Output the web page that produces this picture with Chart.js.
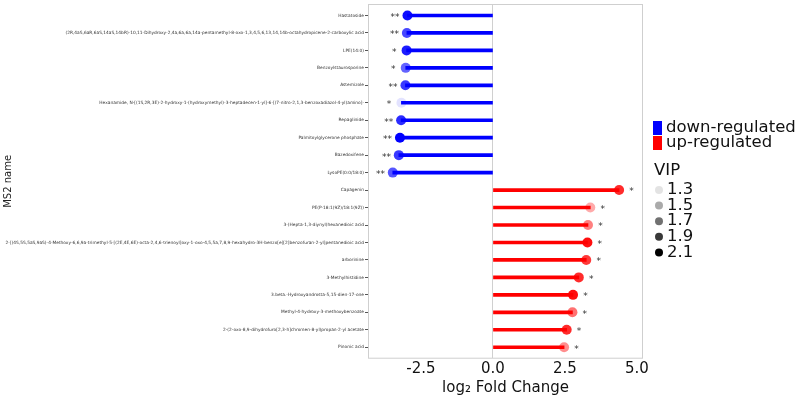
<!DOCTYPE html>
<html>
<head>
<meta charset="utf-8">
<script src="https://cdn.jsdelivr.net/npm/chart.js@4/dist/chart.umd.min.js"></script>
<style>
  html, body { margin: 0; padding: 0; background: #fff; }
  #wrap { position: relative; width: 798px; height: 399px; }
</style>
</head>
<body>
<div id="wrap"><canvas id="chart" width="798" height="399"></canvas></div>
<script>
// metabolites, top to bottom
const names = [
    'Hastatoside',
    '(2R,4aS,6aR,6aS,14aS,14bR)-10,11-Dihydroxy-2,4a,6a,6a,14a-pentamethyl-8-oxo-1,3,4,5,6,13,14,14b-octahydropicene-2-carboxylic acid',
    'LPE(14:0)',
    'Benzoylstaurosporine',
    'Astemizole',
    'Hexanamide, N-[(1S,2R,3E)-2-hydroxy-1-(hydroxymethyl)-3-heptadecen-1-yl]-6-[(7-nitro-2,1,3-benzoxadiazol-4-yl)amino]-',
    'Repaglinide',
    'Palmitoylglycerone phosphate',
    'Bazedoxifene',
    'LysoPE(0:0/18:0)',
    'Capagenin',
    'PE(P-18:1(9Z)/18:1(9Z))',
    '3-(Hepta-1,3-diynyl)hexanedioic acid',
    '2-[(4S,5S,5aS,9aS)-4-Methoxy-6,6,9a-trimethyl-5-[(2E,4E,6E)-octa-2,4,6-trienoyl]oxy-1-oxo-4,5,5a,7,8,9-hexahydro-3H-benzo[e][2]benzofuran-2-yl]pentanedioic acid',
    'arborinine',
    '3-Methylhistidine',
    '3.beta.-Hydroxyandrosta-5,15-dien-17-one',
    'Methyl-4-hydroxy-3-methoxybenzoate',
    '2-(2-oxo-8,9-dihydrofuro[2,3-h]chromen-8-yl)propan-2-yl acetate',
    'Pinonic acid'
];
const log2fc = [-2.97, -2.99, -3.00, -3.03, -3.04, -3.18, -3.19, -3.23, -3.27, -3.48,
                4.38, 3.38, 3.30, 3.28, 3.24, 2.98, 2.78, 2.76, 2.56, 2.47];
const vip = [2.05, 1.85, 2.0, 1.75, 1.9, 1.3, 1.95, 2.1, 1.9, 1.8,
             1.95, 1.5, 1.65, 2.05, 1.9, 1.95, 2.05, 1.7, 1.95, 1.6];
const stars = ['**', '**', '*', '*', '**', '*', '**', '**', '**', '**',
               '*', '*', '*', '*', '*', '*', '*', '*', '*', '*'];
const xTicks = [-2.5, 0, 2.5, 5];
const groupLabels = ['down-regulated', 'up-regulated'];
const vipLevels = [1.3, 1.5, 1.7, 1.9, 2.1];

const FONT = '"DejaVu Sans", sans-serif';

function vipAlpha(v) {
    return Math.min(1, Math.max(0.08, (v - 1.2) / 0.9));
}
function groupRGB(val) {
    return val < 0 ? '0,0,255' : '255,0,0';
}

const points = names.map((n, i) => ({ x: log2fc[i], y: i }));

// frame box around the plot + stars + side legend
const extras = {
    id: 'extras',
    afterDatasetsDraw(chart) {
        const { ctx, chartArea, scales } = chart;
        const xs = scales.x, ys = scales.y;

        ctx.save();
        ctx.fillStyle = '#333';
        ctx.font = '9px ' + FONT;
        ctx.textAlign = 'center';
        ctx.textBaseline = 'middle';
        log2fc.forEach((v, i) => {
            const off = v < 0 ? -0.43 : 0.43;
            ctx.fillText(stars[i], xs.getPixelForValue(v + off), ys.getPixelForValue(i) + 2);
        });

        ctx.strokeStyle = '#cfcfcf';
        ctx.lineWidth = 1;
        ctx.strokeRect(chartArea.left + 0.5, chartArea.top - 0.5,
            chartArea.right - chartArea.left - 1, chartArea.bottom - chartArea.top + 1);

        // legend
        ctx.textAlign = 'left';
        ctx.font = '16.5px ' + FONT;
        ctx.fillStyle = 'rgb(0,0,255)';
        ctx.fillRect(653, 121, 9, 14);
        ctx.fillStyle = 'rgb(255,0,0)';
        ctx.fillRect(653, 136, 9, 14);
        ctx.fillStyle = '#111';
        ctx.fillText(groupLabels[0], 666, 128);
        ctx.fillText(groupLabels[1], 666, 143);
        ctx.fillText('VIP', 654, 171);
        vipLevels.forEach((lv, k) => {
            const y = 190 + k * 15.6;
            ctx.beginPath();
            ctx.arc(659, y, 4, 0, Math.PI * 2);
            ctx.fillStyle = 'rgba(0,0,0,' + vipAlpha(lv) + ')';
            ctx.fill();
            ctx.fillStyle = '#111';
            ctx.fillText(lv.toFixed(1), 667, y);
        });
        ctx.restore();
    }
};

new Chart(document.getElementById('chart'), {
    type: 'bar',
    data: {
        datasets: [
            {
                type: 'scatter',
                data: points,
                pointRadius: 5,
                pointHoverRadius: 5,
                pointBorderWidth: 0,
                pointBackgroundColor: log2fc.map((v, i) => 'rgba(' + groupRGB(v) + ',' + vipAlpha(vip[i]) + ')'),
                order: 1
            },
            {
                type: 'bar',
                data: points,
                backgroundColor: log2fc.map(v => 'rgb(' + groupRGB(v) + ')'),
                barThickness: 3,
                order: 2
            }
        ]
    },
    options: {
        indexAxis: 'y',
        responsive: false,
        animation: false,
        devicePixelRatio: 1,
        layout: { padding: { top: 2, right: 155, bottom: 0, left: 0 } },
        plugins: { legend: { display: false }, tooltip: { enabled: false } },
        scales: {
            x: {
                type: 'linear',
                position: 'bottom',
                min: -4.34,
                max: 5.21,
                afterBuildTicks: scale => { scale.ticks = xTicks.map(v => ({ value: v })); },
                afterFit: scale => { scale.height = 41.3; },
                ticks: {
                    font: { family: FONT, size: 15 },
                    color: '#111',
                    padding: 2,
                    maxRotation: 0,
                    callback: v => v.toFixed(1)
                },
                grid: {
                    drawTicks: false,
                    color: c => (c.tick && c.tick.value === 0 ? '#d0d0d0' : 'rgba(0,0,0,0)')
                },
                border: { display: false },
                title: {
                    display: true,
                    text: 'log₂ Fold Change',
                    font: { family: FONT, size: 15 },
                    color: '#111',
                    padding: { top: 0, bottom: 2 }
                }
            },
            y: {
                type: 'linear',
                reverse: true,
                offset: false,
                min: -0.6,
                max: 19.6,
                afterBuildTicks: scale => { scale.ticks = names.map((n, i) => ({ value: i })); },
                afterFit: scale => { scale.width = 368; },
                ticks: {
                    autoSkip: false,
                    font: { family: FONT, size: 4.35 },
                    color: '#333',
                    padding: 1,
                    callback: v => names[v]
                },
                grid: { offset: false, drawOnChartArea: false, drawTicks: true, tickLength: 3, tickColor: '#555' },
                border: { display: false },
                title: {
                    display: true,
                    text: 'MS2 name',
                    font: { family: FONT, size: 10 },
                    color: '#222',
                    padding: { top: 2, bottom: 0 }
                }
            }
        }
    },
    plugins: [extras]
});
</script>
</body>
</html>
